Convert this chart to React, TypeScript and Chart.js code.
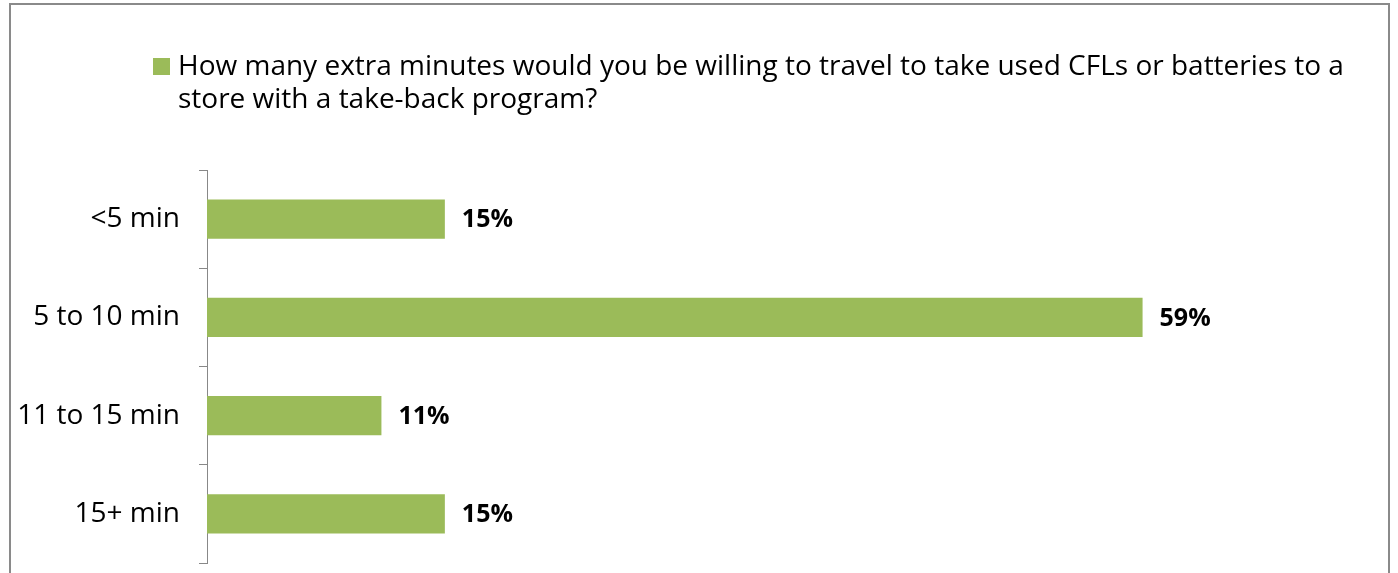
import React, { useEffect, useRef } from "react";
import { Chart, registerables } from "chart.js";

Chart.register(...registerables);

const categories = ["<5 min", "5 to 10 min", "11 to 15 min", "15+ min"];
const values = [15, 59, 11, 15];
const legendLines = [
  "How many extra minutes would you be willing to travel to take used CFLs or batteries to a",
  "store with a take-back program?",
];
const seriesLabel = legendLines.join(" ");
const xMin = 0;
const xMax = 70;

const FONT = "'Open Sans', sans-serif";
const GREEN = "#9BBB59";
const AXIS_GRAY = "#888888";

const valueLabels = {
  id: "valueLabels",
  afterDatasetsDraw(chart: any) {
    const ctx = chart.ctx;
    const meta = chart.getDatasetMeta(0);
    ctx.save();
    ctx.font = `bold 25px ${FONT}`;
    ctx.fillStyle = "#000000";
    ctx.textBaseline = "middle";
    ctx.textAlign = "left";
    meta.data.forEach((bar: any, i: number) => {
      ctx.fillText(`${values[i]}%`, bar.x + 17, bar.y + 1);
    });
    ctx.restore();
  },
};

export default function App() {
  const canvasRef = useRef<HTMLCanvasElement | null>(null);

  useEffect(() => {
    if (!canvasRef.current) return;
    const chart = new Chart(canvasRef.current, {
      type: "bar",
      data: {
        labels: categories,
        datasets: [
          {
            label: seriesLabel,
            data: values,
            backgroundColor: GREEN,
            borderWidth: 0,
            categoryPercentage: 1,
            barPercentage: 0.4,
          },
        ],
      },
      options: {
        indexAxis: "y",
        responsive: false,
        animation: false,
        devicePixelRatio: 1,
        layout: { padding: { top: 170, bottom: 10, left: 0, right: 81 } },
        plugins: {
          legend: { display: false },
          tooltip: { enabled: false },
        },
        scales: {
          x: { display: false, min: xMin, max: xMax },
          y: {
            afterFit: (s: any) => {
              s.width = 207;
              s.paddingTop = 0;
              s.paddingBottom = 0;
            },
            grid: {
              display: true,
              drawOnChartArea: false,
              drawTicks: true,
              tickLength: 8,
              offset: true,
              color: AXIS_GRAY,
              lineWidth: 1,
            },
            border: { display: true, color: AXIS_GRAY, width: 1 },
            ticks: {
              color: "#000000",
              padding: 19,
              font: { family: FONT, size: 28 },
            },
          },
        },
      },
      plugins: [valueLabels],
    });
    return () => chart.destroy();
  }, []);

  return (
    <div
      style={{
        position: "fixed",
        left: 0,
        top: 0,
        width: 1398,
        height: 573,
        overflow: "hidden",
        background: "#ffffff",
      }}
    >
      <div
        style={{
          position: "absolute",
          left: 9,
          top: 3,
          width: 1381,
          height: 620,
          border: "2px solid #8a8a8a",
          boxSizing: "border-box",
        }}
      />
      <canvas
        ref={canvasRef}
        width={1398}
        height={573}
        style={{ position: "absolute", left: 0, top: 0, width: 1398, height: 573 }}
      />
      <div
        style={{
          position: "absolute",
          left: 153,
          top: 58,
          width: 17,
          height: 17,
          background: GREEN,
        }}
      />
      <div
        style={{
          position: "absolute",
          left: 178,
          top: 48,
          fontFamily: FONT,
          fontSize: 28,
          lineHeight: "33px",
          color: "#000000",
          whiteSpace: "nowrap",
        }}
      >
        {legendLines[0]}
        <br />
        {legendLines[1]}
      </div>
    </div>
  );
}
